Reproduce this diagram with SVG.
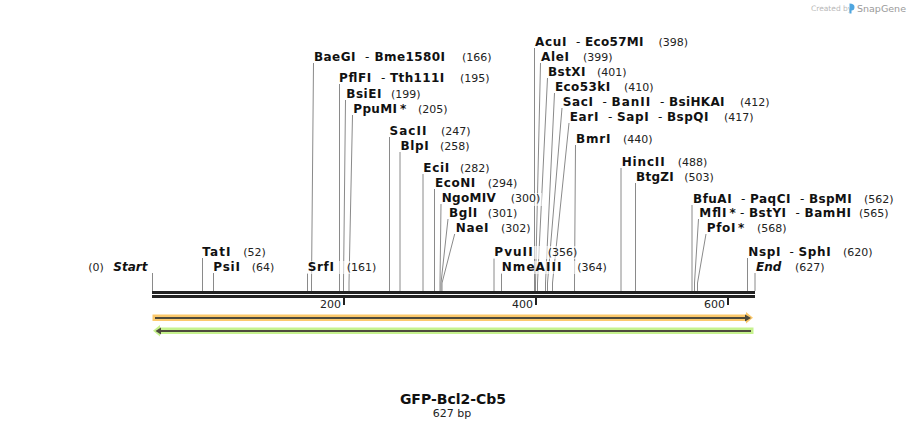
<svg xmlns="http://www.w3.org/2000/svg" width="908" height="430" viewBox="0 0 908 430">
<defs>
<style>
text{font-family:"DejaVu Sans","Verdana",sans-serif;fill:#111}
.n{font-size:12px;font-weight:bold}
.i{font-style:italic}
.d{font-size:12px;font-weight:normal}
.p{font-size:11px;fill:#222}
.ln{fill:none;stroke:#8a8a8a;stroke-width:1}
.bg{fill:#fff;opacity:0.6}
.bar{fill:#222}
.tk{fill:#222}
.tl{font-size:11px;fill:#222;text-anchor:end}
.ink{fill:#4d4a3c}
</style>
</defs>
<rect width="908" height="430" fill="#fff"/>

<!-- watermark -->
<g id="watermark">
<text x="811" y="11" style="font-size:7.5px;fill:#b8b8b8">Created by</text>
<path d="M849.5,3.5 q5,0 5,3.5 q0,3.5 -3,3.5 v3 h-2 z" fill="#4fa6e0"/>
<text x="857" y="11.5" style="font-size:9.5px;fill:#9a9a9a">SnapGene</text>
</g>

<!-- leader lines -->
<g id="connectors">
<path class="ln" d="M152.5,273V291"/>
<path class="ln" d="M202.5,258V291"/>
<path class="ln" d="M213.5,273V291"/>
<path class="ln" d="M307.5,273V291"/>
<path class="ln" d="M313.5,63L311.5,283V291"/>
<path class="ln" d="M339.5,84V291"/>
<path class="ln" d="M345.5,100L343.5,283V291"/>
<path class="ln" d="M352.5,115L349,283V291"/>
<path class="ln" d="M389.5,137V291"/>
<path class="ln" d="M400,152V291"/>
<path class="ln" d="M423,174V291"/>
<path class="ln" d="M434.5,189V291"/>
<path class="ln" d="M441,204L440,283V291"/>
<path class="ln" d="M448,219L441,283V291"/>
<path class="ln" d="M454.7,234L442,283V291"/>
<path class="ln" d="M494,258V291"/>
<path class="ln" d="M501.5,273V291"/>
<path class="ln" d="M534.5,48V291"/>
<path class="ln" d="M540.5,63L535.5,283V291"/>
<path class="ln" d="M547.5,78L537.5,283V291"/>
<path class="ln" d="M554.5,93L545.5,283V291"/>
<path class="ln" d="M562,108L547.5,283V291"/>
<path class="ln" d="M569,123L552.5,283V291"/>
<path class="ln" d="M575.5,145L574.5,283V291"/>
<path class="ln" d="M621,168V291"/>
<path class="ln" d="M635.5,183V291"/>
<path class="ln" d="M692,205V291"/>
<path class="ln" d="M698.5,219L694.5,283V291"/>
<path class="ln" d="M706,234L697.5,283V291"/>
<path class="ln" d="M747.5,258V291"/>
<path class="ln" d="M755,273V291"/>
</g>

<!-- label backgrounds where leaders cross -->
<g id="label-bg">
<rect class="bg" x="305" y="261" width="66" height="13"/>
<rect class="bg" x="508" y="193" width="34" height="13"/>
<rect class="bg" x="492" y="246" width="88" height="13"/>
<rect class="bg" x="499" y="261" width="110" height="13"/>
</g>

<!-- sequence bar -->
<g id="sequence">
<rect class="bar" x="152" y="291" width="603" height="3"/>
<rect class="bar" x="152" y="295" width="603" height="3"/>
<rect class="tk" x="343" y="298" width="2" height="7"/>
<rect class="tk" x="535" y="298" width="2" height="7"/>
<rect class="tk" x="727" y="298" width="2" height="7"/>
<text class="tl" x="341" y="307.5">200</text>
<text class="tl" x="533" y="307.5">400</text>
<text class="tl" x="725" y="307.5">600</text>
</g>

<!-- features -->
<g id="feature-forward">
<polygon points="152.5,314.5 746,314.5 746,312 753,317.8 746,323.5 746,321 152.5,321" fill="#fcc96c"/>
<rect class="ink" x="155" y="317" width="591" height="2"/>
<polygon class="ink" points="745,314.5 751,318 745,321.5"/>
</g>
<g id="feature-reverse">
<polygon points="753.5,327.5 160,327.5 160,325 153,330.8 160,336.5 160,334 753.5,334" fill="#c6f28e"/>
<rect class="ink" x="161" y="330" width="590" height="2"/>
<polygon class="ink" points="161,327.5 155.5,331 161,334.5"/>
</g>

<!-- labels -->
<g id="start"><text x="88.3" y="271" class="p">(0)</text><text x="113.3" y="271" class="n i">Start</text></g>
<g id="TatI"><text x="202.3" y="256" class="n" textLength="28.2">TatI</text><text x="243.3" y="256" class="p">(52)</text></g>
<g id="PsiI"><text x="213.3" y="271" class="n" textLength="26.6">PsiI</text><text x="251.7" y="271" class="p">(64)</text></g>
<g id="SrfI"><text x="307.7" y="271" class="n" textLength="26.3">SrfI</text><text x="346.7" y="271" class="p">(161)</text></g>
<g id="BaeGI"><text x="314" y="61" class="n" textLength="41.4">BaeGI</text><text x="365" y="61" class="d">-</text><text x="374.5" y="61" class="n" textLength="70.5">Bme1580I</text><text x="462" y="61" class="p">(166)</text></g>
<g id="PflFI"><text x="339" y="82" class="n" textLength="32.3">PflFI</text><text x="381" y="82" class="d">-</text><text x="390" y="82" class="n" textLength="54.3">Tth111I</text><text x="460" y="82" class="p">(195)</text></g>
<g id="BsiEI"><text x="346.3" y="98" class="n" textLength="35.1">BsiEI</text><text x="391" y="98" class="p">(199)</text></g>
<g id="PpuMI"><text x="353.3" y="113" class="n" textLength="43.7">PpuMI</text><text x="400" y="113" class="n">*</text><text x="418" y="113" class="p">(205)</text></g>
<g id="SacII"><text x="389.5" y="135" class="n" textLength="36.9">SacII</text><text x="441" y="135" class="p">(247)</text></g>
<g id="BlpI"><text x="400.5" y="150" class="n" textLength="28.2">BlpI</text><text x="440" y="150" class="p">(258)</text></g>
<g id="EciI"><text x="423.3" y="172" class="n" textLength="25.9">EciI</text><text x="460" y="172" class="p">(282)</text></g>
<g id="EcoNI"><text x="435" y="187" class="n" textLength="40.2">EcoNI</text><text x="487.7" y="187" class="p">(294)</text></g>
<g id="NgoMIV"><text x="441.7" y="202" class="n" textLength="54">NgoMIV</text><text x="510.7" y="202" class="p">(300)</text></g>
<g id="BglI"><text x="449" y="217" class="n" textLength="28.2">BglI</text><text x="487.7" y="217" class="p">(301)</text></g>
<g id="NaeI"><text x="455.7" y="232" class="n" textLength="32.7">NaeI</text><text x="501" y="232" class="p">(302)</text></g>
<g id="PvuII"><text x="494.3" y="256" class="n" textLength="38.3">PvuII</text><text x="547.7" y="256" class="p">(356)</text></g>
<g id="NmeAIII"><text x="501.7" y="271" class="n" textLength="59.8">NmeAIII</text><text x="577.3" y="271" class="p">(364)</text></g>
<g id="AcuI"><text x="535" y="46" class="n" textLength="31.5">AcuI</text><text x="576" y="46" class="d">-</text><text x="585" y="46" class="n" textLength="58.5">Eco57MI</text><text x="658.5" y="46" class="p">(398)</text></g>
<g id="AleI"><text x="541" y="61" class="n" textLength="27.9">AleI</text><text x="583" y="61" class="p">(399)</text></g>
<g id="BstXI"><text x="548" y="76" class="n" textLength="37.5">BstXI</text><text x="597" y="76" class="p">(401)</text></g>
<g id="Eco53kI"><text x="555" y="91" class="n" textLength="55.1">Eco53kI</text><text x="624" y="91" class="p">(410)</text></g>
<g id="SacI"><text x="562.7" y="106" class="n" textLength="30.3">SacI</text><text x="602.5" y="106" class="d">-</text><text x="611.5" y="106" class="n" textLength="38.8">BanII</text><text x="660" y="106" class="d">-</text><text x="669" y="106" class="n" textLength="55.5">BsiHKAI</text><text x="740" y="106" class="p">(412)</text></g>
<g id="EarI"><text x="569.7" y="121" class="n" textLength="28.7">EarI</text><text x="608" y="121" class="d">-</text><text x="617" y="121" class="n" textLength="31.6">SapI</text><text x="658" y="121" class="d">-</text><text x="667" y="121" class="n" textLength="41.4">BspQI</text><text x="724" y="121" class="p">(417)</text></g>
<g id="BmrI"><text x="576" y="143" class="n" textLength="34.4">BmrI</text><text x="623" y="143" class="p">(440)</text></g>
<g id="HincII"><text x="621.7" y="166" class="n" textLength="42.9">HincII</text><text x="677.7" y="166" class="p">(488)</text></g>
<g id="BtgZI"><text x="636" y="181" class="n" textLength="37.8">BtgZI</text><text x="684.3" y="181" class="p">(503)</text></g>
<g id="BfuAI"><text x="693" y="202.5" class="n" textLength="38.6">BfuAI</text><text x="741" y="202.5" class="d">-</text><text x="750" y="202.5" class="n" textLength="40.4">PaqCI</text><text x="800" y="202.5" class="d">-</text><text x="809" y="202.5" class="n" textLength="42.6">BspMI</text><text x="864" y="202.5" class="p">(562)</text></g>
<g id="MflI"><text x="699.3" y="217" class="n" textLength="27.1">MflI</text><text x="729.5" y="217" class="n">*</text><text x="740" y="217" class="d">-</text><text x="749" y="217" class="n" textLength="37">BstYI</text><text x="795.5" y="217" class="d">-</text><text x="804.5" y="217" class="n" textLength="46.5">BamHI</text><text x="859" y="217" class="p">(565)</text></g>
<g id="PfoI"><text x="706.7" y="232" class="n" textLength="28.7">PfoI</text><text x="738" y="232" class="n">*</text><text x="757" y="232" class="p">(568)</text></g>
<g id="NspI"><text x="748.3" y="256" class="n" textLength="32.2">NspI</text><text x="789.5" y="256" class="d">-</text><text x="798.5" y="256" class="n" textLength="32.2">SphI</text><text x="843" y="256" class="p">(620)</text></g>
<g id="end"><text x="756" y="271" class="n i">End</text><text x="795" y="271" class="p">(627)</text></g>

<!-- title -->
<g id="title">
<text x="453" y="404" text-anchor="middle" style="font-size:14px;font-weight:bold">GFP-Bcl2-Cb5</text>
<text x="452" y="417" text-anchor="middle" style="font-size:11px;fill:#222">627 bp</text>
</g>
</svg>
